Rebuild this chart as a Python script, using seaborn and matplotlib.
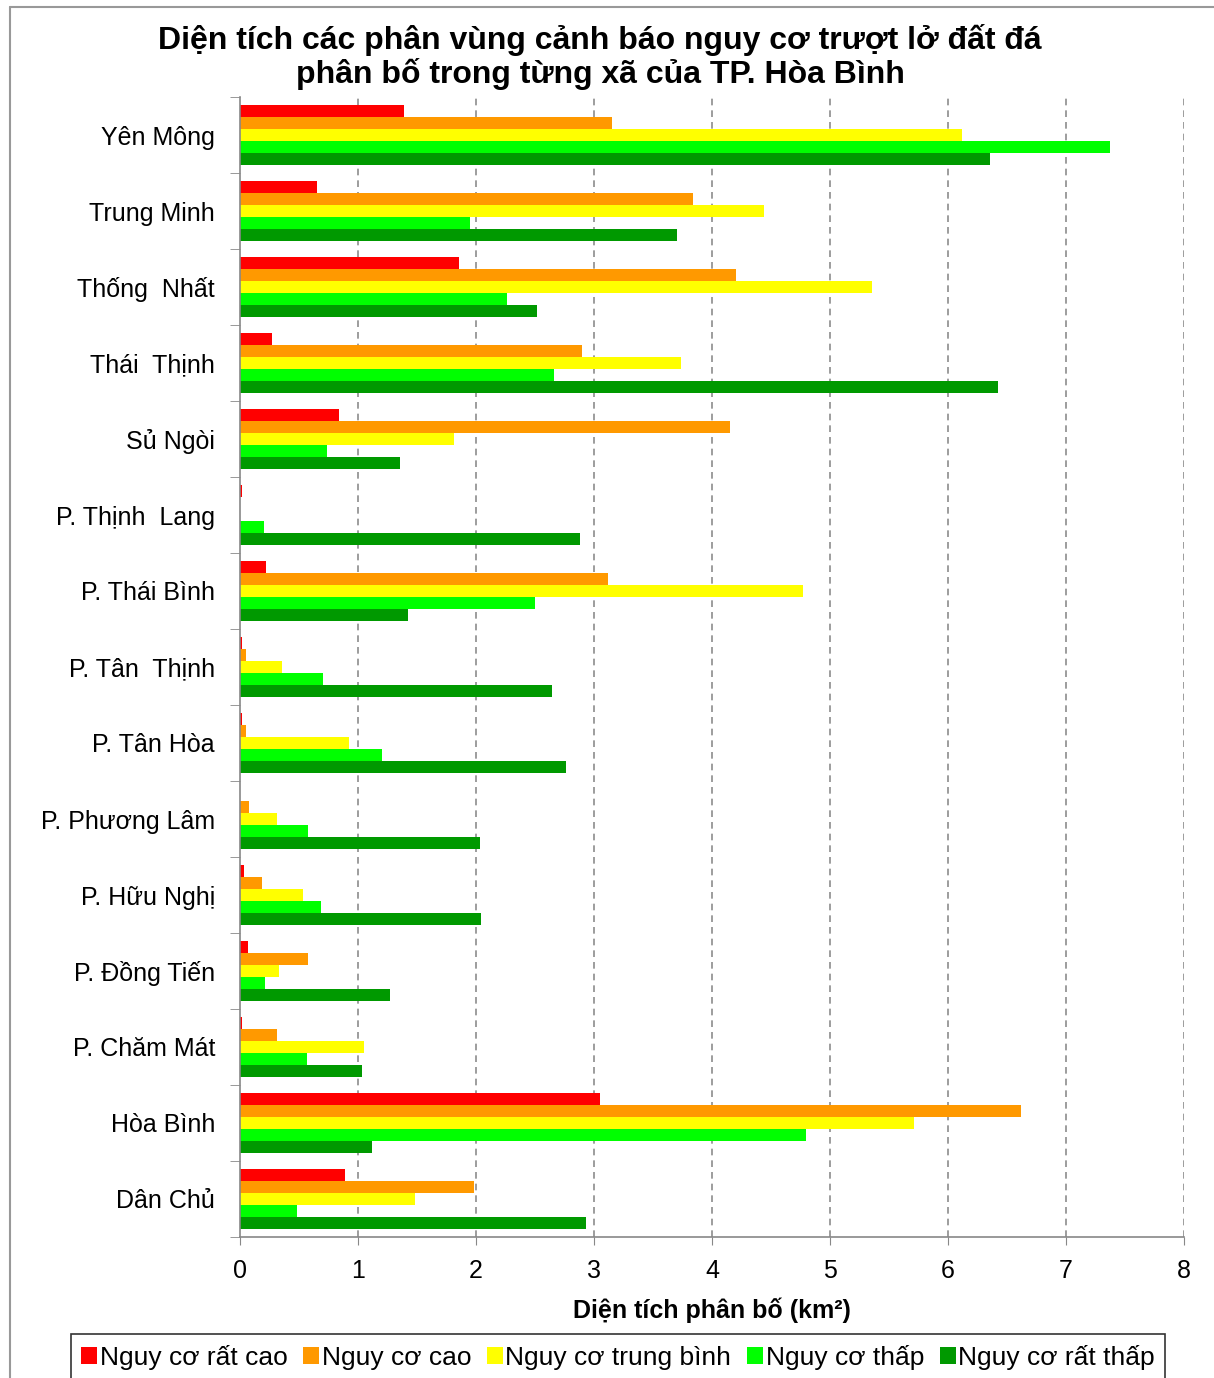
import numpy as np
import pandas as pd
import matplotlib
matplotlib.use("Agg")
import matplotlib.pyplot as plt
from matplotlib.lines import Line2D
import seaborn as sns

# Communes, top to bottom
communes = ['Yên Mông', 'Trung Minh', 'Thống  Nhất', 'Thái  Thịnh', 'Sủ Ngòi',
            'P. Thịnh  Lang', 'P. Thái Bình', 'P. Tân  Thịnh', 'P. Tân Hòa',
            'P. Phương Lâm', 'P. Hữu Nghị', 'P. Đồng Tiến', 'P. Chăm Mát',
            'Hòa Bình', 'Dân Chủ']

series_names = ['Nguy cơ rất cao', 'Nguy cơ cao', 'Nguy cơ trung bình',
                'Nguy cơ thấp', 'Nguy cơ rất thấp']

rat_cao = [1.39, 0.65, 1.86, 0.27, 0.84, 0.02, 0.22, 0.02, 0.02, 0.00, 0.03, 0.07, 0.02, 3.05, 0.89]
cao = [3.15, 3.84, 4.20, 2.90, 4.15, 0.00, 3.12, 0.05, 0.05, 0.08, 0.19, 0.58, 0.31, 6.62, 1.98]
trung_binh = [6.12, 4.44, 5.36, 3.74, 1.81, 0.00, 4.77, 0.36, 0.92, 0.31, 0.53, 0.33, 1.05, 5.71, 1.48]
thap = [7.37, 1.95, 2.26, 2.66, 0.74, 0.20, 2.50, 0.70, 1.20, 0.58, 0.69, 0.21, 0.57, 4.80, 0.48]
rat_thap = [6.36, 3.70, 2.52, 6.42, 1.36, 2.88, 1.42, 2.64, 2.76, 2.03, 2.04, 1.27, 1.03, 1.12, 2.93]

colors = ['#FF0000', '#FF9900', '#FFFF00', '#00FF00', '#009900']

frames = []
for name, vals in zip(series_names, [rat_cao, cao, trung_binh, thap, rat_thap]):
    frames.append(pd.DataFrame({'xa': communes, 'muc': name, 'dien_tich': vals}))
df = pd.concat(frames, ignore_index=True)

sns.set_style('white')
plt.rcParams['font.family'] = ['Liberation Sans', 'DejaVu Sans']
plt.rcParams['text.color'] = 'black'
plt.rcParams['xtick.color'] = 'black'
plt.rcParams['ytick.color'] = 'black'
plt.rcParams['axes.labelcolor'] = 'black'

W, H = 1214, 1378
fig = plt.figure(figsize=(W / 100, H / 100), dpi=100)
ax = fig.add_axes([240 / W, 1 - 1237 / H, 944 / W, 1140 / H])

sns.barplot(data=df, x='dien_tich', y='xa', hue='muc', orient='h',
            order=communes, hue_order=series_names, palette=colors,
            saturation=1, width=0.78, edgecolor='none', linewidth=0, ax=ax)

ax.set_xlim(0, 8)
ax.set_ylim(14.5, -0.5)
ax.set_xticks(range(0, 9))
ax.tick_params(axis='x', labelsize=18, length=6, color='#888888', direction='out', pad=10)
ax.tick_params(axis='y', which='major', labelsize=18, length=0, pad=18)
ax.set_yticks(np.arange(-0.5, 15, 1), minor=True)
ax.tick_params(axis='y', which='minor', length=7, color='#888888', direction='out')
ax.xaxis.set_ticks_position('bottom')
ax.yaxis.set_ticks_position('left')

for v in range(1, 9):
    ax.axvline(v, color='#8c8c8c', linestyle=(0, (4, 3)), linewidth=1.2, zorder=0)

for side in ['top', 'right']:
    ax.spines[side].set_visible(False)
for side in ['left', 'bottom']:
    ax.spines[side].set_color('#888888')
    ax.spines[side].set_linewidth(1.2)

ax.set_ylabel('')
ax.set_xlabel('Diện tích phân bố (km²)', fontsize=18, fontweight='bold', labelpad=10)

fig.text(600 / W, 1 - 57 / H,
         'Diện tích các phân vùng cảnh báo nguy cơ trượt lở đất đá\nphân bố trong từng xã của TP. Hòa Bình',
         ha='center', va='center', fontsize=23, fontweight='bold', linespacing=1.05)

handles, labels = ax.get_legend_handles_labels()
ax.get_legend().remove()
leg = fig.legend(handles, labels, loc='center', bbox_to_anchor=(618 / W, 1 - 1357 / H),
                 ncol=5, fontsize=19, handlelength=0.6, handleheight=0.6,
                 handletextpad=0.1, columnspacing=0.6, borderpad=0.4,
                 fancybox=False, frameon=True)
leg.get_frame().set_edgecolor('black')
leg.get_frame().set_linewidth(1.2)

# outer chart border
fig.add_artist(Line2D([10 / W, 10 / W], [0, 1 - 7 / H], transform=fig.transFigure,
                      color='#999999', linewidth=1.5))
fig.add_artist(Line2D([10 / W, 1], [1 - 7 / H, 1 - 7 / H], transform=fig.transFigure,
                      color='#999999', linewidth=1.5))

fig.savefig('out.png', dpi=100)
